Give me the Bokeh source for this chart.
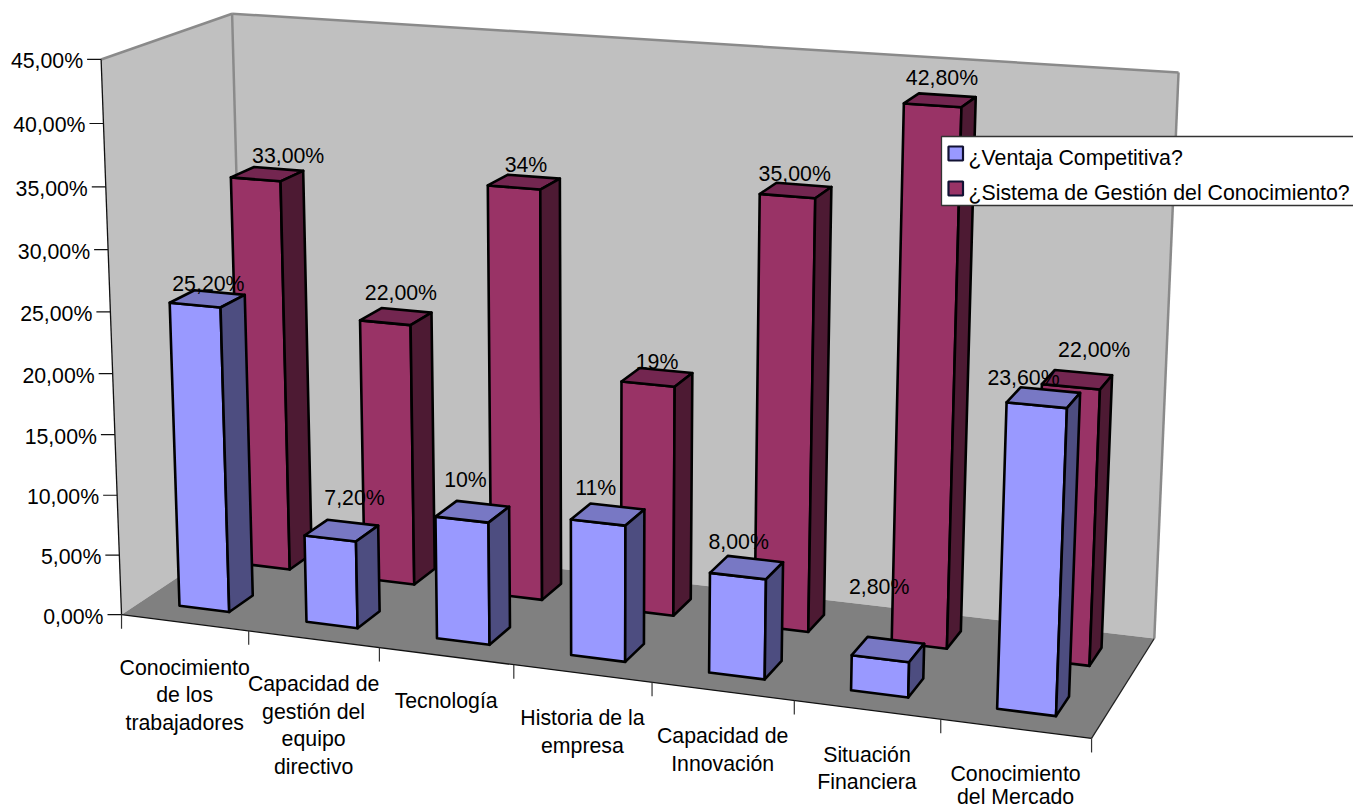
import numpy as np
from bokeh.core.properties import value
from bokeh.embed import file_html
from bokeh.models import ColumnDataSource
from bokeh.plotting import figure
from bokeh.resources import INLINE

categories = [
    ["Conocimiento", "de los", "trabajadores"],
    ["Capacidad de", "gestión del", "equipo", "directivo"],
    ["Tecnología"],
    ["Historia de la", "empresa"],
    ["Capacidad de", "Innovación"],
    ["Situación", "Financiera"],
    ["Conocimiento", "del Mercado"],
]
series_names = ["¿Ventaja Competitiva?", "¿Sistema de Gestión del Conocimiento?"]
ventaja = [25.2, 7.2, 10, 11, 8, 2.8, 23.6]
gestion = [33, 22, 34, 19, 35, 42.8, 22]
ventaja_labels = ["25,20%", "7,20%", "10%", "11%", "8,00%", "2,80%", "23,60%"]
gestion_labels = ["33,00%", "22,00%", "34%", "19%", "35,00%", "42,80%", "22,00%"]
value_ticks = [0, 5, 10, 15, 20, 25, 30, 35, 40, 45]

FONT = value("Liberation Sans")
FONT_PX = "21.3px"
W, H = 1353, 810

# Camera calibration: box coordinates (category, percent, depth) -> page pixels, with a weight.
anchors = [
    (0, 0, 0, 122, 614.5, 3), (1, 0, 0, 249, 631, 1), (2, 0, 0, 380, 648, 1),
    (3, 0, 0, 514, 664.5, 1), (4, 0, 0, 652, 682, 1), (5, 0, 0, 794, 700, 1),
    (6, 0, 0, 940, 719, 1), (7, 0, 0, 1090.5, 738, 3),
    (0, 5, 0, 120, 555, 1), (0, 10, 0, 117.5, 495, 1), (0, 15, 0, 115, 434, 1),
    (0, 20, 0, 112.5, 373, 1), (0, 25, 0, 110, 312, 1), (0, 30, 0, 107.5, 249, 1),
    (0, 35, 0, 105, 187, 1), (0, 40, 0, 102.5, 123, 1), (0, 45, 0, 100, 58.5, 4),
    (0, 45, 1, 232, 13.5, 5), (7, 45, 1, 1178, 72, 5), (7, 0, 1, 1154, 638, 5),
    (0, 0, 1, 232.5, 526, 1),
]
rows, rhs = [], []
for u, v, d, px, py, k in anchors:
    rows.append([k * c for c in (u, v, d, 1, 0, 0, 0, 0, -px * u, -px * v, -px * d)])
    rows.append([k * c for c in (0, 0, 0, 0, u, v, d, 1, -py * u, -py * v, -py * d)])
    rhs += [k * px, k * py]
cam = np.append(np.linalg.lstsq(np.array(rows, float), np.array(rhs, float), rcond=None)[0], 1).reshape(3, 4)


def project(u, v, d):
    x, y, s = cam @ np.array([u, v, d, 1.0])
    return x / s, y / s


def poly(*corners):
    pts = [project(*c) for c in corners]
    return [p[0] for p in pts], [p[1] for p in pts]


p = figure(width=W, height=H, x_range=(0, W), y_range=(H, 0), toolbar_location=None,
           output_backend="svg", min_border=0, outline_line_color=None, background_fill_color="white")
p.axis.visible = False
p.grid.visible = False

# Walls and floor
WALL, FLOOR, EDGE = "#C0C0C0", "#808080", "#8A8A8A"
for corners, color in [
    ([(0, 0, 0), (0, 45, 0), (0, 45, 1), (0, 0, 1)], WALL),
    ([(0, 0, 1), (0, 45, 1), (7, 45, 1), (7, 0, 1)], WALL),
    ([(0, 0, 0), (0, 0, 1), (7, 0, 1), (7, 0, 0)], FLOOR),
]:
    xs, ys = poly(*corners)
    p.patch(xs, ys, fill_color=color, line_color=None)

for a, b, color, width in [
    ((0, 45, 0), (0, 45, 1), EDGE, 2.5),
    ((0, 45, 1), (7, 45, 1), EDGE, 2.5),
    ((7, 45, 1), (7, 0, 1), EDGE, 2.5),
    ((0, 45, 1), (0, 0, 1), EDGE, 2.5),
    ((0, 0, 0), (0, 45, 0), "#111111", 1.3),
    ((0, 0, 0), (7, 0, 0), "#111111", 1.3),
    ((7, 0, 0), (7, 0, 1), "#222222", 1.3),
]:
    xs, ys = poly(a, b)
    p.line(xs, ys, line_color=color, line_width=width)

# Value axis ticks and labels
for t in value_ticks:
    x, y = project(0, t, 0)
    p.line([x - 14, x], [y, y], line_color="#111111", line_width=1.2)
p.text([project(0, t, 0)[0] - 18 for t in value_ticks],
       [project(0, t, 0)[1] + 2 for t in value_ticks],
       text=[f"{t},00%" for t in value_ticks], text_font=FONT, text_font_size=FONT_PX,
       text_align="right", text_baseline="middle", text_color="black")

# Category ticks and wrapped labels
for i in range(len(categories) + 1):
    x, y = project(i, 0, 0)
    p.line([x, x], [y, y + 14], line_color="#333333", line_width=1.2)
cx, cy, ct = [], [], []
for i, lines in enumerate(categories):
    x, y = project(i + 0.5, 0, 0)
    for j, line in enumerate(lines):
        cx.append(x)
        cy.append(min(y + 45 + j * 27.5, H - 13.5))
        ct.append(line)
p.text(cx, cy, text=ct, text_font=FONT, text_font_size=FONT_PX, text_align="center",
       text_baseline="middle", text_color="black")

# Bars, painted from the back row forward and left to right
U0, U1 = 0.30, 0.695
ROWS = [
    (gestion, (0.655, 0.845), ("#993366", "#732650", "#4D1A33")),
    (ventaja, (0.155, 0.345), ("#9999FF", "#7878C4", "#4D4D80")),
]
fx, fy, fc = [], [], []
for vals, (d0, d1), (front, top, side) in ROWS:
    for i, v in enumerate(vals):
        a, b = i + U0, i + U1
        for corners, color in [
            ([(a, 0, d0), (a, v, d0), (b, v, d0), (b, 0, d0)], front),
            ([(a, v, d0), (a, v, d1), (b, v, d1), (b, v, d0)], top),
            ([(b, 0, d0), (b, v, d0), (b, v, d1), (b, 0, d1)], side),
        ]:
            xs, ys = poly(*corners)
            fx.append(xs)
            fy.append(ys)
            fc.append(color)
bars = ColumnDataSource(dict(xs=fx, ys=fy, color=fc))
p.patches("xs", "ys", source=bars, fill_color="color", line_color="black", line_width=2.6, line_join="round")

# Data labels, anchored over each bar's roof
ventaja_nudge = [(1, -15), (13, -33), (-7, -32), (-12, -26), (-8, -26), (-9, -62), (-20, -20)]
gestion_nudge = [(21, -18), (5, -23), (2, -17), (0, -15), (-1, -16), (2, -22), (17, -30)]
lx, ly, lt = [], [], []
for vals, texts, nudge, (d0, d1) in [
    (gestion, gestion_labels, gestion_nudge, (0.655, 0.845)),
    (ventaja, ventaja_labels, ventaja_nudge, (0.155, 0.345)),
]:
    for i, v in enumerate(vals):
        x, y = project(i + (U0 + U1) / 2, v, (d0 + d1) / 2)
        lx.append(x + nudge[i][0])
        ly.append(y + nudge[i][1])
        lt.append(texts[i])
p.text(lx, ly, text=lt, text_font=FONT, text_font_size=FONT_PX, text_align="center",
       text_baseline="middle", text_color="black")

# Legend, running off the page edge on the right
p.quad(left=941, right=W + 5, top=136, bottom=205, fill_color="white", line_color="#333333", line_width=1.3)
for y0, color, name in [(146, "#9999FF", series_names[0]), (181, "#993366", series_names[1])]:
    p.quad(left=948, right=962.5, top=y0, bottom=y0 + 14, fill_color=color, line_color="#111133", line_width=2.2)
    p.text([968], [y0 + 11], text=[name], text_font=FONT, text_font_size=FONT_PX,
           text_align="left", text_baseline="middle", text_color="black")

open("out.html", "w").write(file_html(p, INLINE))
